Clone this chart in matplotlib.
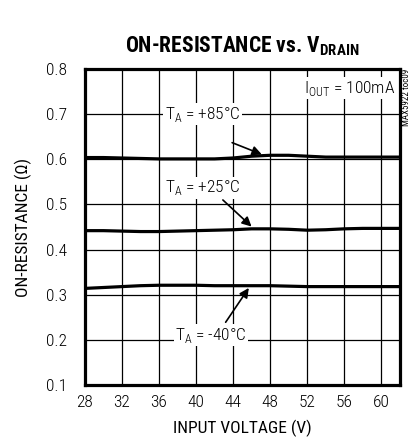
import matplotlib
matplotlib.use("Agg")
import matplotlib.pyplot as plt

font = "Roboto Condensed"
plt.rcParams["font.family"] = [font, "DejaVu Sans"]
plt.rcParams["font.weight"] = "light"
plt.rcParams["mathtext.fontset"] = "custom"
plt.rcParams["mathtext.rm"] = font + ":light"
plt.rcParams["mathtext.bf"] = font + ":bold"

# data
vin = [28, 30, 32, 34, 36, 38, 40, 42, 44, 46, 48, 50, 52, 54, 56, 58, 60, 62]
r_85 = [0.604, 0.604, 0.603, 0.602, 0.601, 0.601, 0.601, 0.601, 0.603, 0.607,
        0.609, 0.609, 0.607, 0.605, 0.605, 0.605, 0.605, 0.605]
r_25 = [0.442, 0.442, 0.441, 0.440, 0.440, 0.441, 0.442, 0.443, 0.444, 0.446,
        0.446, 0.445, 0.443, 0.444, 0.446, 0.447, 0.447, 0.447]
r_m40 = [0.314, 0.316, 0.318, 0.320, 0.321, 0.321, 0.321, 0.320, 0.320, 0.320,
         0.320, 0.319, 0.318, 0.318, 0.318, 0.318, 0.318, 0.318]
x_ticks = [28, 32, 36, 40, 44, 48, 52, 56, 60]
y_ticks = [0.1, 0.2, 0.3, 0.4, 0.5, 0.6, 0.7, 0.8]

fig = plt.figure(figsize=(4.16, 4.43), dpi=100)
ax = fig.add_axes([0.204, 0.131, 0.757, 0.713])

for r in (r_85, r_25, r_m40):
    ax.plot(vin, r, color="black", lw=2.3, zorder=3)

ax.set_xlim(28, 62)
ax.set_ylim(0.1, 0.8)
ax.set_xticks(x_ticks)
ax.set_yticks(y_ticks)
ax.set_yticklabels([f"{v:.1f}" for v in y_ticks])
ax.grid(True, color="black", lw=0.9)
ax.tick_params(length=0, labelsize=12.5)
ax.tick_params(axis="y", pad=13)
ax.tick_params(axis="x", pad=7)
for s in ax.spines.values():
    s.set_linewidth(2.3)

ax.set_xlabel("INPUT VOLTAGE (V)", fontsize=12.5, labelpad=7)
ax.set_ylabel("ON-RESISTANCE (Ω)", fontsize=12.5, labelpad=10)
ax.set_title(r"ON-RESISTANCE vs. V$_{\mathbf{DRAIN}}$", fontsize=15.5,
             fontweight="bold", pad=12)

box = dict(facecolor="white", edgecolor="none", pad=1)
arrow = dict(arrowstyle="-|>", color="black", lw=1.2, mutation_scale=14,
             shrinkA=0, shrinkB=0)
ax.annotate(r"T$_\mathrm{A}$ = +85°C", xy=(47.1, 0.611), xytext=(40.7, 0.70),
            ha="center", va="center", fontsize=12.5, bbox=box)
ax.annotate("", xy=(47.1, 0.611), xytext=(43.9, 0.637), arrowprops=arrow)
ax.annotate(r"T$_\mathrm{A}$ = +25°C", xy=(46.0, 0.451), xytext=(40.7, 0.537),
            ha="center", va="center", fontsize=12.5, bbox=box)
ax.annotate("", xy=(46.0, 0.451), xytext=(42.9, 0.51), arrowprops=arrow)
ax.annotate(r"T$_\mathrm{A}$ = -40°C", xy=(45.7, 0.315), xytext=(41.6, 0.21),
            ha="center", va="center", fontsize=12.5, bbox=box)
ax.annotate("", xy=(45.7, 0.315), xytext=(43.2, 0.239), arrowprops=arrow)

ax.text(61.5, 0.758, r"I$_\mathrm{OUT}$ = 100mA", ha="right", va="center",
        fontsize=12.5, bbox=box)
fig.text(0.977, 0.845, "MAX5922 toc09", rotation=90, ha="center", va="top",
         fontsize=6.5, fontweight="normal")

fig.savefig("out.png", dpi=100)
